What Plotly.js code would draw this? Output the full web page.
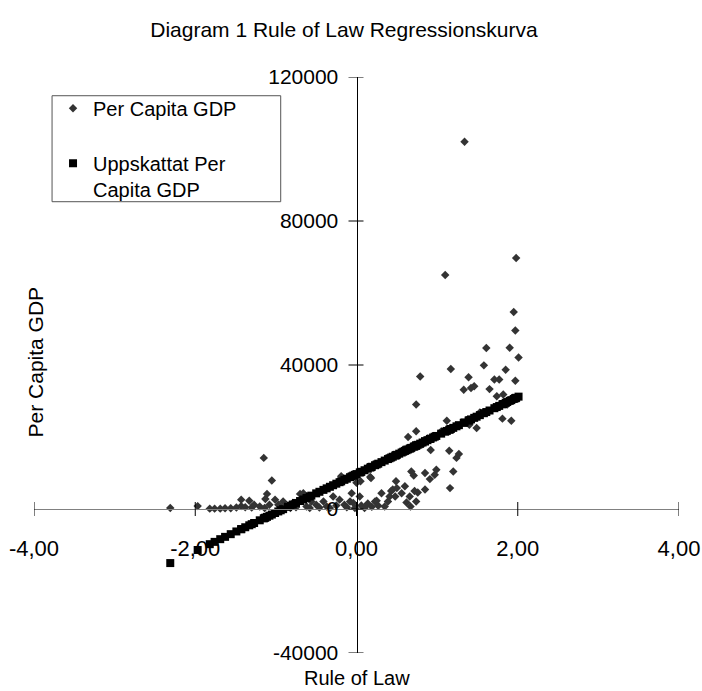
<!DOCTYPE html>
<html>
<head>
<meta charset="utf-8">
<script src="https://cdn.plot.ly/plotly-3.0.1.min.js"></script>
<style>html,body{margin:0;padding:0;background:#fff;}#chart{width:702px;height:691px;}</style>
</head>
<body>
<div id="chart"></div>
<script>
// Rule of Law index (x) for each country
var ruleOfLaw = [
 -2.31,-1.97,-1.82,-1.76,-1.69,-1.63,-1.56,-1.49,-1.43,-1.43,
 -1.38,-1.33,-1.30,-1.27,-1.20,-1.15,-1.14,-1.13,-1.11,-1.08,
 -1.05,-1.01,-0.97,-0.94,-0.91,-0.85,-0.82,-0.79,-0.75,-0.70,
 -0.66,-0.62,-0.58,-0.56,-0.50,-0.46,-0.41,-0.37,-0.33,-0.29,
 -0.25,-0.21,-0.19,-0.15,-0.12,-0.08,-0.06,-0.04,-0.02,0.00,
 0.04,0.05,0.06,0.10,0.14,0.17,0.18,0.19,0.23,0.25,
 0.27,0.31,0.35,0.39,0.41,0.43,0.45,0.48,0.49,0.50,
 0.53,0.56,0.58,0.60,0.62,0.64,0.66,0.67,0.68,0.71,
 0.72,0.74,0.74,0.74,0.76,0.79,0.82,0.85,0.85,0.88,
 0.91,0.92,0.95,0.97,0.99,1.05,1.10,1.12,1.15,1.16,
 1.17,1.20,1.24,1.27,1.33,1.34,1.39,1.40,1.42,1.46,
 1.49,1.53,1.58,1.61,1.65,1.71,1.74,1.77,1.81,1.82,
 1.85,1.87,1.90,1.92,1.95,1.97,1.97,1.98,2.01
];
// Observed Per Capita GDP
var perCapitaGDP = [
 300,800,100,100,100,200,200,400,2600,800,
 500,2300,400,1200,700,14200,300,2800,4200,1200,
 7900,2600,1200,400,2100,700,300,1700,500,4200,
 4400,700,300,2100,1200,400,2100,700,300,3500,
 1000,2600,9100,1200,500,2100,4400,1700,300,7300,
 3500,7700,1000,300,1500,8900,8600,600,2100,2300,
 900,4400,700,2100,3500,5000,5400,3500,7700,5800,
 15000,4400,16500,6300,1800,20000,3500,700,10400,9300,
 5000,2100,21600,29000,4600,36800,18000,10000,5400,19500,
 8300,16400,20200,9500,10900,21500,65000,24500,16200,5800,
 38900,10400,14200,15300,33100,102000,36600,23400,33600,34100,
 22500,26800,39900,44700,33300,36000,31300,36000,25100,31800,
 38700,29000,44800,24500,54700,49600,35600,69700,42100
];
// Estimated (fitted) Per Capita GDP
var estimatedGDP = [
 -15020,-11380,-9770,-9130,-8380,-7740,-6990,-6240,-5600,-5600,
 -5070,-4530,-4210,-3890,-3140,-2610,-2500,-2390,-2180,-1860,
 -1540,-1110,-680,-360,-40,610,930,1250,1680,2210,
 2640,3070,3490,3710,4350,4780,5310,5740,6170,6600,
 7030,7450,7670,8100,8420,8840,9060,9270,9490,9700,
 10130,10240,10340,10770,11200,11520,11630,11730,12160,12380,
 12590,13020,13450,13870,14090,14300,14520,14840,14940,15050,
 15370,15690,15910,16120,16330,16550,16760,16870,16980,17300,
 17400,17620,17620,17620,17830,18150,18470,18800,18800,19120,
 19440,19540,19870,20080,20290,20940,21470,21680,22010,22110,
 22220,22540,22970,23290,23930,24040,24570,24680,24890,25320,
 25640,26070,26610,26930,27360,28000,28320,28640,29070,29170,
 29500,29710,30030,30240,30570,30780,30780,30890,31210
];
var xTickVals = [-4, -2, 0, 2, 4];
var xTickText = ["-4,00", "-2,00", "0,00", "2,00", "4,00"];
var yTickVals = [-40000, 0, 40000, 80000, 120000];
var yTickText = ["-40000", "0", "40000", "80000", "120000"];

var FONT = "Liberation Sans, Arial, Helvetica, sans-serif";

var traces = [
  {
    type: "scatter", mode: "markers", name: "Per Capita GDP",
    x: ruleOfLaw, y: perCapitaGDP, legendgroup: "a",
    marker: { symbol: "diamond", size: 6.5, color: "#333333" }
  },
  {
    type: "scatter", mode: "markers", name: "Uppskattat Per<br>Capita GDP",
    x: ruleOfLaw, y: estimatedGDP, legendgroup: "b",
    marker: { symbol: "square", size: 8, color: "#000000" }
  }
];

var shapes = [];
xTickVals.forEach(function (v) {
  shapes.push({ type: "line", xref: "x", yref: "y", ysizemode: "pixel", yanchor: 0,
    x0: v, x1: v, y0: -7, y1: 7, line: { color: "#000", width: 1 } });
});
yTickVals.forEach(function (v) {
  shapes.push({ type: "line", xref: "x", yref: "y", xsizemode: "pixel", xanchor: 0,
    y0: v, y1: v, x0: -8, x1: 7, line: { color: "#000", width: 1 } });
});
// legend frame
shapes.push({ type: "rect", xref: "paper", yref: "paper", layer: "above",
  x0: 0.028, x1: 0.3825, y0: 0.7835, y1: 0.9675,
  fillcolor: "#fff", line: { color: "#555", width: 1 } });

var layout = {
  width: 702, height: 691,
  margin: { l: 34, r: 23, t: 77, b: 38, pad: 0 },
  paper_bgcolor: "#fff", plot_bgcolor: "#fff",
  font: { family: FONT, size: 20, color: "#000" },
  title: { text: "Diagram 1 Rule of Law Regressionskurva", font: { family: FONT, size: 21, color: "#000" },
    xref: "container", x: 0.49, xanchor: "center", yref: "container", y: 0.957, yanchor: "middle" },
  showlegend: true,
  legend: {
    x: 0.0295, y: 0.9797, xanchor: "left", yanchor: "top",
    bgcolor: "rgba(0,0,0,0)", borderwidth: 0,
    font: { family: FONT, size: 20, color: "#000" },
    traceorder: "grouped", tracegroupgap: 26, valign: "top"
  },
  xaxis: {
    range: [-4, 4], anchor: "free", position: 0.25,
    tickvals: xTickVals, ticktext: xTickText,
    ticks: "", showgrid: false, zeroline: false,
    showline: true, linecolor: "#808080", linewidth: 1,
    tickfont: { family: FONT, size: 22, color: "#000" },
    ticklabelstandoff: 20, fixedrange: true
  },
  yaxis: {
    range: [-40000, 120000], anchor: "free", position: 0.5,
    tickvals: yTickVals, ticktext: yTickText,
    ticks: "", showgrid: false, zeroline: false,
    showline: true, linecolor: "#000", linewidth: 1,
    tickfont: { family: FONT, size: 21, color: "#000" },
    ticklabelstandoff: 14, fixedrange: true
  },
  shapes: shapes,
  annotations: [
    { text: "Rule of Law", xref: "paper", yref: "paper", x: 0.5, y: -0.043,
      xanchor: "center", yanchor: "middle", showarrow: false,
      font: { family: FONT, size: 20, color: "#000" } },
    { text: "Per Capita GDP", xref: "paper", yref: "paper", x: 0.003, y: 0.506,
      xanchor: "center", yanchor: "middle", textangle: -90, showarrow: false,
      font: { family: FONT, size: 21, color: "#000" } }
  ]
};

Plotly.newPlot("chart", traces, layout, { displayModeBar: false, staticPlot: true });
</script>
</body>
</html>
